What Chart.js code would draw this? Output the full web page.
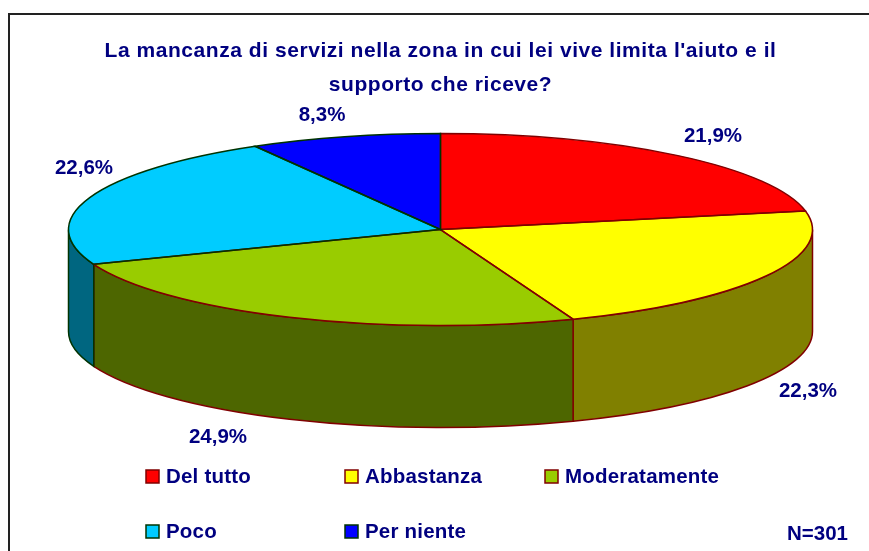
<!DOCTYPE html>
<html>
<head>
<meta charset="utf-8">
<style>
html, body { margin: 0; padding: 0; background: #fff; }
canvas { display: block; }
</style>
<script src="https://cdn.jsdelivr.net/npm/chart.js@4"></script>
</head>
<body>
<canvas id="torta" width="869" height="551"></canvas>
<script>
const categorie = ['Del tutto', 'Abbastanza', 'Moderatamente', 'Poco', 'Per niente'];
const valori = [21.9, 22.3, 24.9, 22.6, 8.3];
const etichette = ['21,9%', '22,3%', '24,9%', '22,6%', '8,3%'];
const titolo = ["La mancanza di servizi nella zona in cui lei vive limita l'aiuto e il", 'supporto che riceve?'];
const nota = 'N=301';

const colori = ['#ff0000', '#ffff00', '#99cc00', '#00ccff', '#0000ff'];
const coloriLato = ['#800000', '#808000', '#4d6600', '#006680', '#000080'];
const bordi = ['#800000', '#800000', '#800000', '#003300', '#003300'];
const BLU = '#000080';
const FONT = '"Liberation Sans", Arial, sans-serif';

// 3D look: ry/r of the top face and height of the wall
const SCHIACCIA = 96 / 372;
const SPESSORE = 102;

// label positions (centre of text) and legend cells
const posEtichette = [[713, 136], [808, 391], [218, 437], [84, 168], [322, 115]];
const posLegenda = [[146, 477], [345, 477], [545, 477], [146, 532], [345, 532]];

const torta3d = {
    id: 'torta3d',
    beforeDraw(chart) {
        // title in the reference is spaced out a little
        chart.ctx.letterSpacing = '0.55px';
    },
    beforeDatasetsDraw(chart) {
        const ctx = chart.ctx;
        const archi = chart.getDatasetMeta(0).data;
        const { x, y, outerRadius: r } = archi[0];
        const ry = r * SCHIACCIA;
        ctx.save();
        ctx.lineWidth = 1.5;
        archi.forEach((arco, i) => {
            const a = Math.max(arco.startAngle, 0);
            const b = Math.min(arco.endAngle, Math.PI);
            if (b <= a) return;
            ctx.beginPath();
            ctx.ellipse(x, y, r, ry, 0, a, b);
            ctx.ellipse(x, y + SPESSORE, r, ry, 0, b, a, true);
            ctx.closePath();
            ctx.fillStyle = coloriLato[i];
            ctx.strokeStyle = bordi[i];
            ctx.fill();
            ctx.stroke();
        });
        ctx.restore();
        // the arcs themselves are squashed into an ellipse
        ctx.save();
        ctx.translate(x, y);
        ctx.scale(1, SCHIACCIA);
        ctx.translate(-x, -y);
    },
    afterDatasetsDraw(chart) {
        const ctx = chart.ctx;
        ctx.restore();
        const archi = chart.getDatasetMeta(0).data;
        ctx.save();
        ctx.lineWidth = 1.5;
        archi.forEach((arco, i) => {
            const { x, y, outerRadius: r, startAngle, endAngle } = arco;
            ctx.beginPath();
            ctx.moveTo(x, y);
            ctx.ellipse(x, y, r, r * SCHIACCIA, 0, startAngle, endAngle);
            ctx.closePath();
            ctx.strokeStyle = bordi[i];
            ctx.stroke();
        });
        ctx.restore();
    },
    afterDraw(chart) {
        const ctx = chart.ctx;
        ctx.save();
        // frame: only left and top are inside the picture
        ctx.strokeStyle = '#222';
        ctx.lineWidth = 2;
        ctx.beginPath();
        ctx.moveTo(9, 551);
        ctx.lineTo(9, 14);
        ctx.lineTo(869, 14);
        ctx.stroke();
        // value labels
        ctx.letterSpacing = '0px';
        ctx.fillStyle = BLU;
        ctx.font = 'bold 20.5px ' + FONT;
        ctx.textAlign = 'center';
        ctx.textBaseline = 'middle';
        etichette.forEach((t, i) => ctx.fillText(t, posEtichette[i][0], posEtichette[i][1]));
        // legend
        ctx.textAlign = 'left';
        ctx.letterSpacing = '0.2px';
        categorie.forEach((t, i) => {
            const [lx, ly] = posLegenda[i];
            ctx.fillStyle = colori[i];
            ctx.strokeStyle = bordi[i];
            ctx.lineWidth = 1.5;
            ctx.fillRect(lx, ly - 7, 13, 13);
            ctx.strokeRect(lx, ly - 7, 13, 13);
            ctx.fillStyle = BLU;
            ctx.fillText(t, lx + 20, ly);
        });
        ctx.letterSpacing = '0px';
        ctx.fillText(nota, 787, 534);
        ctx.restore();
    }
};

new Chart(document.getElementById('torta'), {
    type: 'pie',
    data: {
        labels: categorie,
        datasets: [{
            data: valori,
            backgroundColor: colori,
            borderWidth: 0,
            radius: 372,
            clip: false
        }]
    },
    options: {
        responsive: false,
        animation: false,
        layout: { padding: { left: 12, right: 0, top: 0, bottom: 194 } },
        plugins: {
            legend: { display: false },
            tooltip: { enabled: false },
            title: {
                display: true,
                text: titolo,
                color: BLU,
                font: { family: FONT, size: 21, weight: 'bold', lineHeight: 1.62 },
                padding: { top: 34, bottom: 0 }
            }
        }
    },
    plugins: [torta3d]
});
</script>
</body>
</html>
